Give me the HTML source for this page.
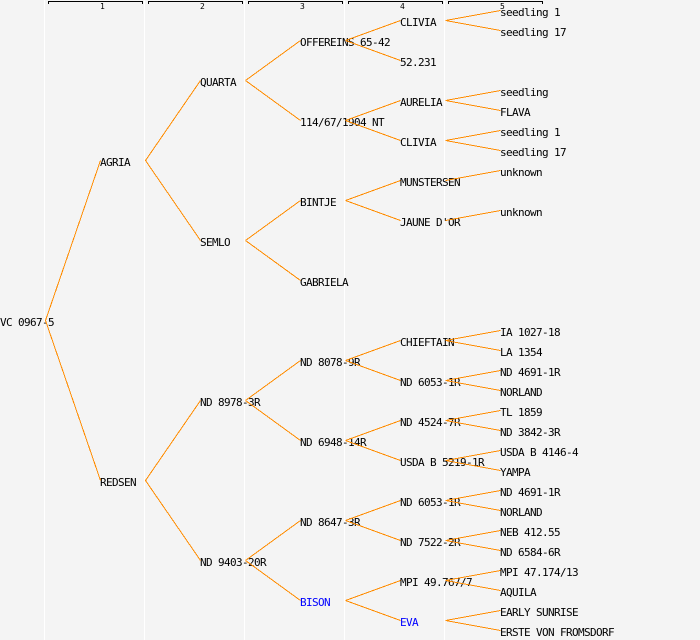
<!DOCTYPE html>
<html>
<head>
<meta charset="utf-8">
<style>
  html, body { margin: 0; padding: 0; background: #f4f4f4; }
  svg { display: block; }
  .t { font-family: "DejaVu Sans Mono", "Liberation Mono", monospace; font-size: 11px; letter-spacing: -0.62px; fill: #000; }
  .b { fill: #0000ff; }
  .n { font-family: "DejaVu Sans Mono", "Liberation Mono", monospace; font-size: 8px; fill: #000; }
  .e line { stroke: #ff8c00; stroke-width: 1; }
</style>
</head>
<body>
<svg width="700" height="640" viewBox="0 0 700 640" xmlns="http://www.w3.org/2000/svg">
  <rect x="0" y="0" width="700" height="640" fill="#f4f4f4"/>
  <!-- white column separators -->
  <g fill="#ffffff">
    <rect x="44" y="0" width="1" height="640"/>
    <rect x="144" y="0" width="1" height="640"/>
    <rect x="244" y="0" width="1" height="640"/>
    <rect x="344" y="0" width="1" height="640"/>
    <rect x="444" y="0" width="1" height="640"/>
  </g>
  <!-- brackets -->
  <g stroke="#000" stroke-width="1" fill="none" shape-rendering="crispEdges">
    <path d="M48.5 4 V1.5 H142.5 V4"/>
    <path d="M148.5 4 V1.5 H242.5 V4"/>
    <path d="M248.5 4 V1.5 H342.5 V4"/>
    <path d="M348.5 4 V1.5 H442.5 V4"/>
    <path d="M448.5 4 V1.5 H542.5 V4"/>
  </g>
  <g class="n">
    <text x="100" y="9">1</text>
    <text x="200" y="9">2</text>
    <text x="300" y="9">3</text>
    <text x="400" y="9">4</text>
    <text x="500" y="9">5</text>
  </g>

  <!-- labels -->
  <g class="t">
    <text x="0" y="326">VC 0967-5</text>

    <text x="100" y="166">AGRIA</text>
    <text x="100" y="486">REDSEN</text>

    <text x="200" y="86">QUARTA</text>
    <text x="200" y="246">SEMLO</text>
    <text x="200" y="406">ND 8978-3R</text>
    <text x="200" y="566">ND 9403-20R</text>

    <text x="300" y="46">OFFEREINS 65-42</text>
    <text x="300" y="126">114/67/1904 NT</text>
    <text x="300" y="206">BINTJE</text>
    <text x="300" y="286">GABRIELA</text>
    <text x="300" y="366">ND 8078-9R</text>
    <text x="300" y="446">ND 6948-14R</text>
    <text x="300" y="526">ND 8647-3R</text>
    <text x="300" y="606" class="t b">BISON</text>

    <text x="400" y="26">CLIVIA</text>
    <text x="400" y="66">52.231</text>
    <text x="400" y="106">AURELIA</text>
    <text x="400" y="146">CLIVIA</text>
    <text x="400" y="186">MUNSTERSEN</text>
    <text x="400" y="226">JAUNE D'OR</text>
    <text x="400" y="346">CHIEFTAIN</text>
    <text x="400" y="386">ND 6053-1R</text>
    <text x="400" y="426">ND 4524-7R</text>
    <text x="400" y="466">USDA B 5219-1R</text>
    <text x="400" y="506">ND 6053-1R</text>
    <text x="400" y="546">ND 7522-2R</text>
    <text x="400" y="586">MPI 49.767/7</text>
    <text x="400" y="626" class="t b">EVA</text>

    <text x="500" y="16">seedling 1</text>
    <text x="500" y="36">seedling 17</text>
    <text x="500" y="96">seedling</text>
    <text x="500" y="116">FLAVA</text>
    <text x="500" y="136">seedling 1</text>
    <text x="500" y="156">seedling 17</text>
    <text x="500" y="176">unknown</text>
    <text x="500" y="216">unknown</text>
    <text x="500" y="336">IA 1027-18</text>
    <text x="500" y="356">LA 1354</text>
    <text x="500" y="376">ND 4691-1R</text>
    <text x="500" y="396">NORLAND</text>
    <text x="500" y="416">TL 1859</text>
    <text x="500" y="436">ND 3842-3R</text>
    <text x="500" y="456">USDA B 4146-4</text>
    <text x="500" y="476">YAMPA</text>
    <text x="500" y="496">ND 4691-1R</text>
    <text x="500" y="516">NORLAND</text>
    <text x="500" y="536">NEB 412.55</text>
    <text x="500" y="556">ND 6584-6R</text>
    <text x="500" y="576">MPI 47.174/13</text>
    <text x="500" y="596">AQUILA</text>
    <text x="500" y="616">EARLY SUNRISE</text>
    <text x="500" y="636">ERSTE VON FROMSDORF</text>
  </g>

  <!-- connectors -->
  <g class="e" shape-rendering="crispEdges">
    <!-- root -->
    <line x1="45.5" y1="320.5" x2="100.5" y2="160.5"/>
    <line x1="45.5" y1="320.5" x2="100.5" y2="480.5"/>
    <!-- col1 -> col2 -->
    <line x1="145.5" y1="160.5" x2="200.5" y2="80.5"/>
    <line x1="145.5" y1="160.5" x2="200.5" y2="240.5"/>
    <line x1="145.5" y1="480.5" x2="200.5" y2="400.5"/>
    <line x1="145.5" y1="480.5" x2="200.5" y2="560.5"/>
    <!-- col2 -> col3 -->
    <line x1="245.5" y1="80.5" x2="300.5" y2="40.5"/>
    <line x1="245.5" y1="80.5" x2="300.5" y2="120.5"/>
    <line x1="245.5" y1="240.5" x2="300.5" y2="200.5"/>
    <line x1="245.5" y1="240.5" x2="300.5" y2="280.5"/>
    <line x1="245.5" y1="400.5" x2="300.5" y2="360.5"/>
    <line x1="245.5" y1="400.5" x2="300.5" y2="440.5"/>
    <line x1="245.5" y1="560.5" x2="300.5" y2="520.5"/>
    <line x1="245.5" y1="560.5" x2="300.5" y2="600.5"/>
    <!-- col3 -> col4 -->
    <line x1="345.5" y1="40.5" x2="400.5" y2="20.5"/>
    <line x1="345.5" y1="40.5" x2="400.5" y2="60.5"/>
    <line x1="345.5" y1="120.5" x2="400.5" y2="100.5"/>
    <line x1="345.5" y1="120.5" x2="400.5" y2="140.5"/>
    <line x1="345.5" y1="200.5" x2="400.5" y2="180.5"/>
    <line x1="345.5" y1="200.5" x2="400.5" y2="220.5"/>
    <line x1="345.5" y1="360.5" x2="400.5" y2="340.5"/>
    <line x1="345.5" y1="360.5" x2="400.5" y2="380.5"/>
    <line x1="345.5" y1="440.5" x2="400.5" y2="420.5"/>
    <line x1="345.5" y1="440.5" x2="400.5" y2="460.5"/>
    <line x1="345.5" y1="520.5" x2="400.5" y2="500.5"/>
    <line x1="345.5" y1="520.5" x2="400.5" y2="540.5"/>
    <line x1="345.5" y1="600.5" x2="400.5" y2="580.5"/>
    <line x1="345.5" y1="600.5" x2="400.5" y2="620.5"/>
    <!-- col4 -> col5 -->
    <line x1="445.5" y1="20.5" x2="500.5" y2="10.5"/>
    <line x1="445.5" y1="20.5" x2="500.5" y2="30.5"/>
    <line x1="445.5" y1="100.5" x2="500.5" y2="90.5"/>
    <line x1="445.5" y1="100.5" x2="500.5" y2="110.5"/>
    <line x1="445.5" y1="140.5" x2="500.5" y2="130.5"/>
    <line x1="445.5" y1="140.5" x2="500.5" y2="150.5"/>
    <line x1="445.5" y1="180.5" x2="500.5" y2="170.5"/>
    <line x1="445.5" y1="220.5" x2="500.5" y2="210.5"/>
    <line x1="445.5" y1="340.5" x2="500.5" y2="330.5"/>
    <line x1="445.5" y1="340.5" x2="500.5" y2="350.5"/>
    <line x1="445.5" y1="380.5" x2="500.5" y2="370.5"/>
    <line x1="445.5" y1="380.5" x2="500.5" y2="390.5"/>
    <line x1="445.5" y1="420.5" x2="500.5" y2="410.5"/>
    <line x1="445.5" y1="420.5" x2="500.5" y2="430.5"/>
    <line x1="445.5" y1="460.5" x2="500.5" y2="450.5"/>
    <line x1="445.5" y1="460.5" x2="500.5" y2="470.5"/>
    <line x1="445.5" y1="500.5" x2="500.5" y2="490.5"/>
    <line x1="445.5" y1="500.5" x2="500.5" y2="510.5"/>
    <line x1="445.5" y1="540.5" x2="500.5" y2="530.5"/>
    <line x1="445.5" y1="540.5" x2="500.5" y2="550.5"/>
    <line x1="445.5" y1="580.5" x2="500.5" y2="570.5"/>
    <line x1="445.5" y1="580.5" x2="500.5" y2="590.5"/>
    <line x1="445.5" y1="620.5" x2="500.5" y2="610.5"/>
    <line x1="445.5" y1="620.5" x2="500.5" y2="630.5"/>
  </g>
</svg>
</body>
</html>
